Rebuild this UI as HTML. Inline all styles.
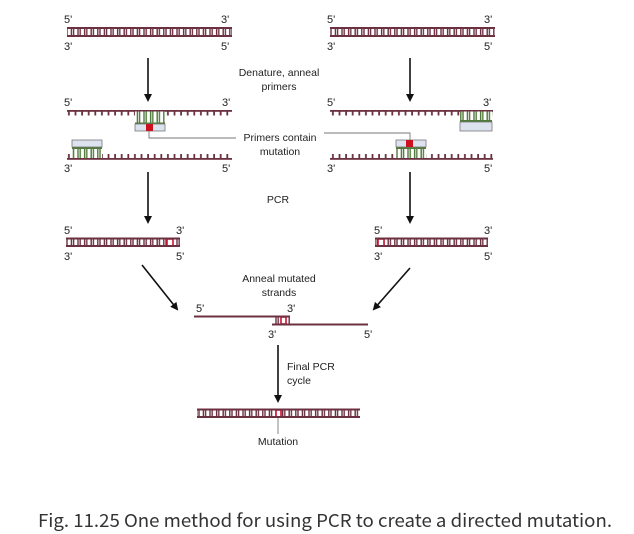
<!DOCTYPE html>
<html><head><meta charset="utf-8"><style>
html,body{margin:0;padding:0;background:#fff;}
svg{display:block;}
text{font-family:"Liberation Sans",sans-serif;fill:#222;}
</style></head><body>
<svg width="634" height="534" viewBox="0 0 634 534" xmlns="http://www.w3.org/2000/svg">
<defs>
<pattern id="rung" x="0" y="-10" width="6.6" height="1000" patternUnits="userSpaceOnUse">
<rect x="1" y="0" width="4.4" height="1000" fill="#fff" stroke="#6b3140" stroke-width="1.4"/>
</pattern>
<pattern id="tickd" x="0" y="0" width="6.6" height="1000" patternUnits="userSpaceOnUse">
<rect x="2" y="0" width="1.8" height="1000" fill="#6b3140"/>
</pattern>
<pattern id="grung" x="0" y="-10" width="6.6" height="1000" patternUnits="userSpaceOnUse">
<rect x="1" y="0" width="4.4" height="1000" fill="#fff" stroke="#4f7a3a" stroke-width="1.4"/>
</pattern>
<marker id="ah" markerWidth="8" markerHeight="8" refX="6" refY="4" orient="auto" markerUnits="userSpaceOnUse">
<path d="M0,0 L8,4 L0,8 z" fill="#111"/>
</marker>
</defs>

<g font-size="11">
<rect x="67" y="29" width="165" height="7" fill="url(#rung)"/>
<rect x="67" y="27" width="165" height="2" fill="#6b3140"/>
<rect x="67" y="35" width="165" height="2" fill="#6b3140"/>
<text x="64" y="23">5'</text><text x="221" y="23">3'</text>
<text x="64" y="50">3'</text><text x="221" y="50">5'</text>
<rect x="330" y="29" width="165" height="7" fill="url(#rung)"/>
<rect x="330" y="27" width="165" height="2" fill="#6b3140"/>
<rect x="330" y="35" width="165" height="2" fill="#6b3140"/>
<text x="327" y="23">5'</text><text x="484" y="23">3'</text>
<text x="327" y="50">3'</text><text x="484" y="50">5'</text>

<line x1="148" y1="58" x2="148" y2="100" stroke="#111" stroke-width="1.6" marker-end="url(#ah)"/>
<line x1="410" y1="58" x2="410" y2="100" stroke="#111" stroke-width="1.6" marker-end="url(#ah)"/>
<text x="279" y="76" text-anchor="middle" font-size="10.5">Denature, anneal</text>
<text x="279" y="90" text-anchor="middle" font-size="10.5">primers</text>

<rect x="67" y="110" width="165" height="1.8" fill="#6b3140"/>
<rect x="67" y="111.5" width="165" height="4" fill="url(#tickd)"/>
<rect x="135" y="111.5" width="30" height="11" fill="#fff"/>
<rect x="135" y="111.5" width="30" height="11" fill="url(#grung)"/>
<rect x="135" y="122.5" width="30" height="2" fill="#4f7a3a"/>
<rect x="135" y="124" width="30" height="7" fill="#dde3ee" stroke="#777" stroke-width="0.8"/>
<rect x="146" y="124" width="7" height="7" fill="#cc1020"/>
<text x="64" y="106">5'</text><text x="222" y="106">3'</text>

<rect x="67" y="158" width="165" height="1.8" fill="#6b3140"/>
<rect x="67" y="154" width="165" height="4" fill="url(#tickd)"/>
<rect x="72" y="148" width="30" height="10" fill="#fff"/>
<rect x="72" y="148" width="30" height="10" fill="url(#grung)"/>
<rect x="72" y="147" width="30" height="2" fill="#4f7a3a"/>
<rect x="72" y="140" width="30" height="7" fill="#dde3ee" stroke="#777" stroke-width="0.8"/>
<text x="64" y="172">3'</text><text x="222" y="172">5'</text>

<rect x="330" y="110" width="163" height="1.8" fill="#6b3140"/>
<rect x="330" y="111.5" width="163" height="4" fill="url(#tickd)"/>
<rect x="460" y="111.5" width="32" height="9" fill="#fff"/>
<rect x="460" y="111.5" width="32" height="9" fill="url(#grung)"/>
<rect x="460" y="120" width="32" height="2" fill="#4f7a3a"/>
<rect x="460" y="122" width="32" height="9" fill="#dde3ee" stroke="#777" stroke-width="0.8"/>
<text x="327" y="106">5'</text><text x="483" y="106">3'</text>

<rect x="330" y="158" width="163" height="1.8" fill="#6b3140"/>
<rect x="330" y="154" width="163" height="4" fill="url(#tickd)"/>
<rect x="396" y="148" width="30" height="10" fill="#fff"/>
<rect x="396" y="148" width="30" height="10" fill="url(#grung)"/>
<rect x="396" y="147" width="30" height="2" fill="#4f7a3a"/>
<rect x="396" y="140" width="30" height="7" fill="#dde3ee" stroke="#777" stroke-width="0.8"/>
<rect x="406" y="140" width="7" height="7" fill="#cc1020"/>
<text x="327" y="172">3'</text><text x="484" y="172">5'</text>

<polyline points="149,131 149,138 236,138" fill="none" stroke="#777" stroke-width="0.9"/>
<polyline points="324,133 410,133 410,140" fill="none" stroke="#777" stroke-width="0.9"/>
<text x="280" y="141" text-anchor="middle" font-size="10.5">Primers contain</text>
<text x="280" y="155" text-anchor="middle" font-size="10.5">mutation</text>

<line x1="148" y1="172" x2="148" y2="222" stroke="#111" stroke-width="1.6" marker-end="url(#ah)"/>
<line x1="410" y1="172" x2="410" y2="222" stroke="#111" stroke-width="1.6" marker-end="url(#ah)"/>
<text x="278" y="203" text-anchor="middle" font-size="10.5">PCR</text>

<rect x="66" y="239" width="114" height="7" fill="url(#rung)"/>
<rect x="167" y="239" width="6" height="7" fill="#fff" stroke="#d01030" stroke-width="1.6"/>
<rect x="66" y="237.5" width="114" height="2" fill="#6b3140"/>
<rect x="66" y="245" width="114" height="2" fill="#6b3140"/>
<text x="64" y="234">5'</text><text x="176" y="234">3'</text>
<text x="64" y="260">3'</text><text x="176" y="260">5'</text>
<rect x="375" y="239" width="113" height="7" fill="url(#rung)"/>
<rect x="378" y="239" width="6" height="7" fill="#fff" stroke="#d01030" stroke-width="1.6"/>
<rect x="375" y="237.5" width="113" height="2" fill="#6b3140"/>
<rect x="375" y="245" width="113" height="2" fill="#6b3140"/>
<text x="374" y="234">5'</text><text x="484" y="234">3'</text>
<text x="374" y="260">3'</text><text x="484" y="260">5'</text>

<line x1="142" y1="265" x2="177" y2="309" stroke="#111" stroke-width="1.6" marker-end="url(#ah)"/>
<line x1="410" y1="268" x2="374" y2="309" stroke="#111" stroke-width="1.6" marker-end="url(#ah)"/>
<text x="279" y="282" text-anchor="middle" font-size="10.5">Anneal mutated</text>
<text x="279" y="296" text-anchor="middle" font-size="10.5">strands</text>

<rect x="273" y="317" width="17" height="7" fill="url(#rung)"/>
<rect x="281" y="317" width="5" height="7" fill="#fff" stroke="#d01030" stroke-width="1.6"/>
<rect x="194" y="315.5" width="96" height="2" fill="#6b3140"/>
<rect x="272" y="323.5" width="96" height="2" fill="#6b3140"/>
<text x="196" y="312">5'</text><text x="287" y="312">3'</text>
<text x="268" y="338">3'</text><text x="364" y="338">5'</text>

<line x1="278" y1="345" x2="278" y2="401" stroke="#111" stroke-width="1.6" marker-end="url(#ah)"/>
<text x="287" y="370" font-size="10.5">Final PCR</text>
<text x="287" y="384" font-size="10.5">cycle</text>

<rect x="197" y="410" width="163" height="7" fill="url(#rung)"/>
<rect x="276" y="410" width="5" height="7" fill="#fff" stroke="#d01030" stroke-width="1.6"/>
<rect x="197" y="408.5" width="163" height="2" fill="#6b3140"/>
<rect x="197" y="416" width="163" height="2" fill="#6b3140"/>
<line x1="278" y1="418" x2="278" y2="434" stroke="#777" stroke-width="0.9"/>
<text x="278" y="445" text-anchor="middle" font-size="10.5">Mutation</text>
</g>

<text x="38" y="527" font-size="18" textLength="574" lengthAdjust="spacingAndGlyphs" style="fill:#333;font-family:'Noto Sans CJK KR','Liberation Sans',sans-serif;">Fig. 11.25 One method for using PCR to create a directed mutation.</text>
</svg>
</body></html>
